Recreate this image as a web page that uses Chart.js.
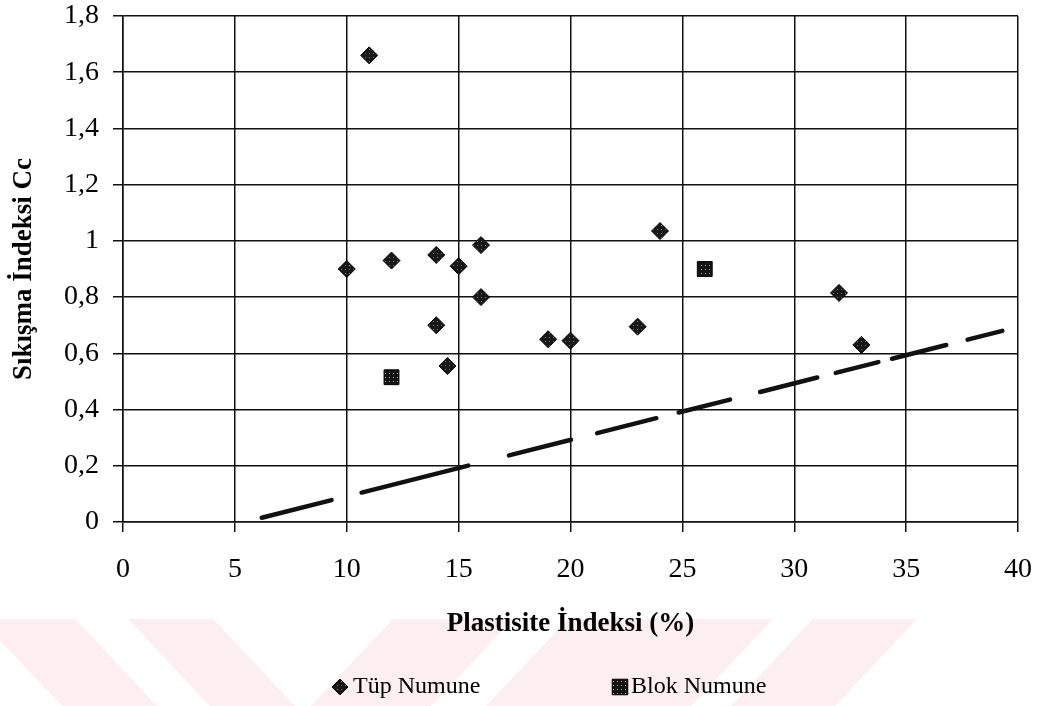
<!DOCTYPE html>
<html>
<head>
<meta charset="utf-8">
<script src="https://cdn.jsdelivr.net/npm/chart.js@4.4.1/dist/chart.umd.min.js"></script>
<style>
  body { margin: 0; background: #fff; }
  #wrap { width: 1040px; height: 706px; position: relative; }
</style>
</head>
<body>
<div id="wrap"><canvas id="cc-chart"></canvas></div>
<script>
// tube samples: plasticity index vs compression index
const tupPI = [10, 11, 12, 14, 14, 14.5, 15, 16, 16, 19, 20, 23, 24, 32, 33]
const tupCc = [0.90, 1.66, 0.93, 0.95, 0.70, 0.555, 0.91, 0.985, 0.80, 0.65, 0.645, 0.695, 1.035, 0.815, 0.63]

// block samples
const blokPI = [12, 26]
const blokCc = [0.515, 0.90]

// dashed reference line (end points)
const trendPI = [6.2, 39.3]
const trendCc = [0.015, 0.68]

const xRange = [0, 40], xStep = 5
const yRange = [0, 1.8], yStep = 0.2

const serif = "'Liberation Serif', 'Times New Roman', serif"
Chart.defaults.font.family = serif
Chart.defaults.color = '#000'

// dark fill with light speckles, like the printed markers
function speckle(base, dot) {
  let c = document.createElement('canvas')
  c.width = 4; c.height = 4
  let g = c.getContext('2d')
  g.fillStyle = base
  g.fillRect(0, 0, 4, 4)
  g.fillStyle = dot
  g.fillRect(1, 1, 1, 1)
  return g.createPattern(c, 'repeat')
}

const toPoints = (xs, ys) => xs.map((x, i) => ({ x: x, y: ys[i] }))

// uneven long dashes of the hand-drawn looking line
const trendDash = [72, 31, 110, 42, 64, 27, 61, 23, 53, 31, 59, 19, 44, 14, 56, 22, 40, 20]

// pale stripes behind the bottom of the page
const watermark = {
  id: 'watermark',
  beforeDraw(chart) {
    let ctx = chart.ctx
    let top = 619, bottom = 706, shift = 82
    let stripes = [
      [-20, 75, 1], [128, 213, 1],
      [393, 513, -1], [568, 773, -1], [813, 917, -1]
    ]
    ctx.save()
    ctx.fillStyle = '#fdeef1'
    stripes.forEach(s => {
      ctx.beginPath()
      ctx.moveTo(s[0], top)
      ctx.lineTo(s[1], top)
      ctx.lineTo(s[1] + shift * s[2], bottom)
      ctx.lineTo(s[0] + shift * s[2], bottom)
      ctx.closePath()
      ctx.fill()
    })
    ctx.restore()
  }
}

// legend row under the axis title
const sampleLegend = {
  id: 'sampleLegend',
  afterDraw(chart) {
    let ctx = chart.ctx
    let spots = [{ mark: 340, text: 353 }, { mark: 620, text: 631 }]
    let y = 687
    ctx.save()
    chart.data.datasets.slice(0, 2).forEach((ds, i) => {
      ctx.fillStyle = ds.backgroundColor
      ctx.strokeStyle = ds.borderColor
      ctx.lineWidth = 1
      Chart.helpers.drawPoint(ctx, {
        pointStyle: ds.pointStyle,
        radius: ds.pointStyle === 'rect' ? 11 : 8,
        borderWidth: 1
      }, spots[i].mark, y)
      ctx.fillStyle = '#000'
      ctx.font = '24px ' + serif
      ctx.textBaseline = 'middle'
      ctx.textAlign = 'left'
      ctx.fillText(ds.label, spots[i].text, y)
    })
    ctx.restore()
  }
}

let chart = new Chart(document.querySelector('#cc-chart'), {
  type: 'scatter',
  data: {
    datasets: [{
      label: 'Tüp Numune',
      data: toPoints(tupPI, tupCc),
      pointStyle: 'rectRot',
      pointRadius: 8.5,
      pointHoverRadius: 8.5,
      backgroundColor: speckle('#181818', '#7a7a7a'),
      borderColor: '#000',
      borderWidth: 1
    }, {
      label: 'Blok Numune',
      data: toPoints(blokPI, blokCc),
      pointStyle: 'rect',
      pointRadius: 10.5,
      pointHoverRadius: 10.5,
      backgroundColor: speckle('#141414', '#a8a8a8'),
      borderColor: '#000',
      borderWidth: 1
    }, {
      label: 'trend',
      type: 'line',
      data: toPoints(trendPI, trendCc),
      borderColor: '#111',
      borderWidth: 4.5,
      borderDash: trendDash,
      borderCapStyle: 'round',
      pointRadius: 0,
      fill: false
    }]
  },
  options: {
    responsive: true,
    maintainAspectRatio: false,
    animation: false,
    layout: { padding: { left: 6, top: 16, right: 22, bottom: 66 } },
    plugins: {
      legend: { display: false },
      tooltip: { enabled: false }
    },
    scales: {
      x: {
        type: 'linear',
        min: xRange[0],
        max: xRange[1],
        ticks: { stepSize: xStep, padding: 22, maxRotation: 0, font: { size: 28, lineHeight: 1.1 } },
        grid: { color: '#111', lineWidth: 1.5, tickLength: 10 },
        border: { color: '#111', width: 1.5 },
        title: {
          display: true,
          text: 'Plastisite İndeksi (%)',
          font: { size: 27, weight: 'bold' },
          padding: { top: 0, bottom: 0 }
        },
        // fixed axis box; the "40" label may hang into the right margin
        afterFit: (scale) => {
          scale.height = 118
          scale.paddingRight = 0
        }
      },
      y: {
        min: yRange[0],
        max: yRange[1],
        ticks: {
          stepSize: yStep,
          padding: 14,
          font: { size: 28, lineHeight: 1.1 },
          callback: (v) => String(+v.toFixed(1)).replace('.', ',')
        },
        grid: { color: '#111', lineWidth: 1.5, tickLength: 10 },
        border: { color: '#111', width: 1.5 },
        title: {
          display: true,
          text: 'Sıkışma İndeksi Cc',
          font: { size: 27, weight: 'bold' },
          padding: { top: 2, bottom: 0 }
        },
        afterFit: (scale) => {
          scale.width = 117
          scale.paddingTop = 0
        }
      }
    }
  },
  plugins: [watermark, sampleLegend]
})
</script>
</body>
</html>
